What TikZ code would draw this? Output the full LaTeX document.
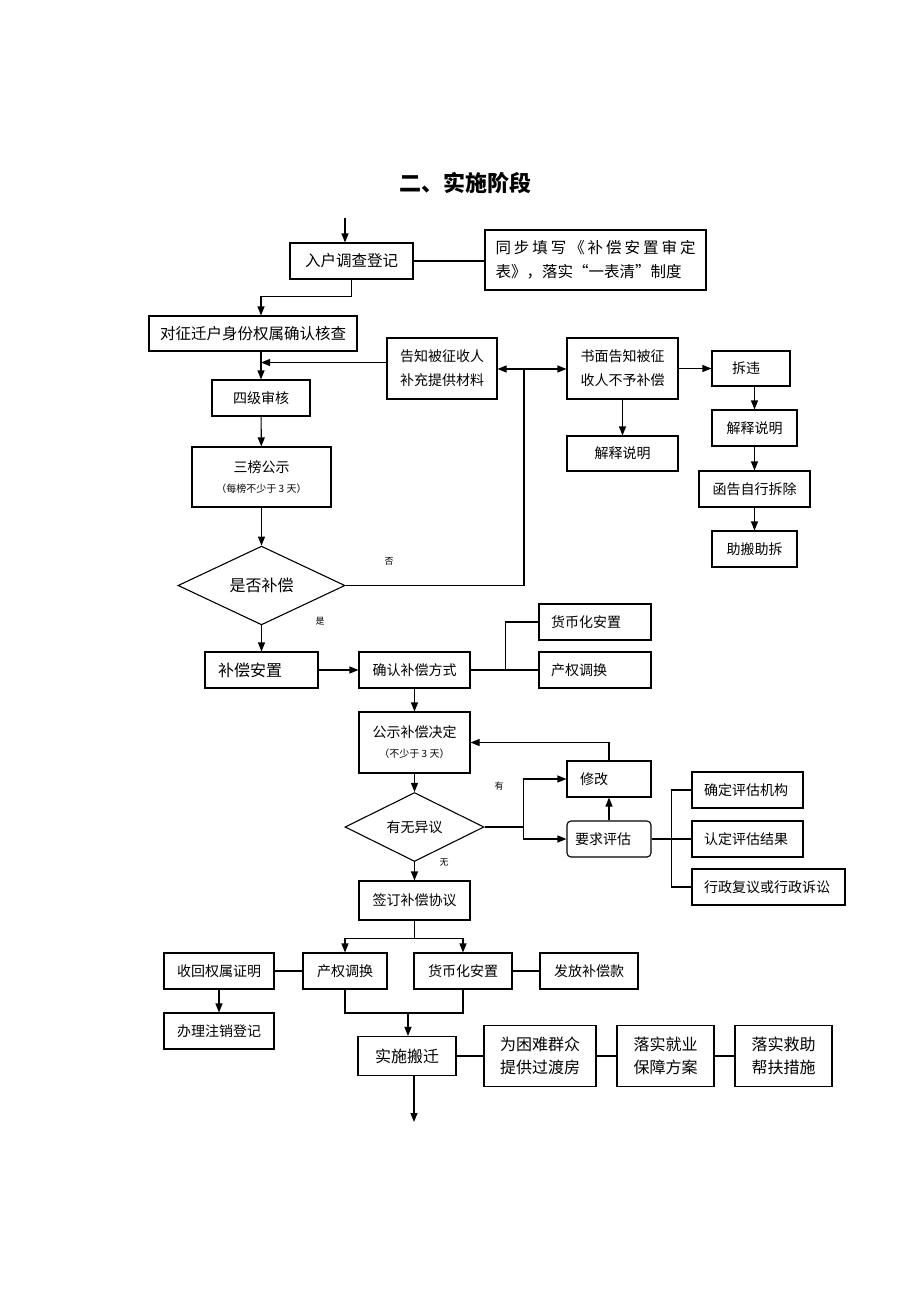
\documentclass[tikz,border=0pt]{standalone}
\usepackage{fontspec}
\setmainfont{Noto Sans CJK SC}
\usetikzlibrary{arrows.meta, positioning, shapes.geometric}

\tikzset{
  box/.style={draw, line width=1.1pt, minimum height=36pt, inner sep=0pt, align=center,
    font=\fontsize{14}{24}\selectfont},
  bigbox/.style={box, font=\fontsize{15.5}{24}\selectfont},
  lbox/.style={box, align=left, inner xsep=12pt, text width=#1},
  choice/.style={diamond, draw, line width=1.1pt, inner sep=0pt, font=\fontsize{16}{20}\selectfont},
  line/.style={line width=1.1pt},
  arr/.style={line, -{Triangle[length=9pt,width=7pt]}},
  darr/.style={line, {Triangle[length=9pt,width=7pt]}-{Triangle[length=9pt,width=7pt]}},
  lab/.style={font=\fontsize{9}{9}\selectfont, inner sep=0pt},
}
\newcommand{\smalltxt}[1]{{\fontsize{10}{12}\selectfont #1}}

\begin{document}
\begin{tikzpicture}[x=1pt, y=-1pt]
  \path[fill=white, use as bounding box] (0,0) rectangle (920,1302);

  \node (title) at (465,183) {\fontsize{22}{26}\selectfont\bfseries 二、实施阶段};

  % upper part
  \coordinate (start) at (345,218);
  \node[bigbox, minimum width=123pt] (ruhu) at (351.5,261) {入户调查登记};
  \node[bigbox, minimum width=221pt, minimum height=60pt, align=left, text width=200pt] (tongbu) at (595.5,260)
    {\makebox[200pt]{同\hfill 步\hfill 填\hfill 写\hfill 《\hfill 补\hfill 偿\hfill 安\hfill 置\hfill 审\hfill 定}\\表》，落实“一表清”制度};
  \node[bigbox, minimum width=208pt, minimum height=35pt] (hecha) at (253,333.5) {对征迁户身份权属确认核查};
  \node[box, minimum width=110pt, minimum height=61pt] (gaozhi) at (442,368.5) {告知被征收人\\补充提供材料};
  \node[box, minimum width=98pt] (siji) at (261,398) {四级审核};
  \node[box, minimum width=139pt, minimum height=60pt] (sanbang) at (261.5,477)
    {三榜公示\\[-4pt]\smalltxt{（每榜不少于 3 天）}};
  \node[choice, minimum width=167pt, minimum height=59pt] (shifou) at (261.5,585.5) {是否补偿};
  \node[box, minimum width=111pt, minimum height=61pt] (shuxian) at (622.5,368.5) {书面告知被征\\收人不予补偿};
  \node[box, minimum width=111pt, minimum height=35pt] (jieshi1) at (622.5,453.5) {解释说明};
  \node[lbox=38pt, minimum width=78pt, minimum height=35pt, inner xsep=20pt] (chaiwei) at (751,368.5) {拆违};
  \node[box, minimum width=85pt] (jieshi2) at (754.5,428) {解释说明};
  \node[box, minimum width=111pt] (hangao) at (754.5,489) {函告自行拆除};
  \node[box, minimum width=85pt] (zhuban) at (754.5,549) {助搬助拆};
  \coordinate (split) at (524,369);

  \node[lab] (fou) at (389,561) {否};
  \node[lab] (shi) at (320,621) {是};

  \draw[arr] (start) -- (start |- ruhu.north);
  \draw[line] (ruhu.east) -- (ruhu.east -| tongbu.west);
  \draw[arr] (ruhu.south) -- ++(0,17) -| (siji |- hecha.north);
  \draw[arr] (hecha.south -| siji) -- (siji.north);
  \draw[arr] ([yshift=6pt]gaozhi.west) -- ([yshift=6pt]gaozhi.west -| siji);
  \draw[arr] (siji) -- (sanbang);
  \draw[arr] (sanbang) -- (shifou);
  \draw[line] (shifou.east) -| (split);
  \draw[darr] (gaozhi.east |- split) -- (shuxian.west |- split);
  \draw[arr] (shuxian.east) -- (chaiwei.west);
  \draw[arr] (shuxian) -- (jieshi1);
  \draw[arr] (chaiwei.south -| jieshi2) -- (jieshi2.north);
  \draw[arr] (jieshi2) -- (hangao);
  \draw[arr] (hangao) -- (zhuban);

  % middle part
  \node[lbox=87pt, minimum width=113pt, font=\fontsize{16}{20}\selectfont] (buchang) at (261.5,670) {补偿安置};
  \node[box, minimum width=111pt] (queren) at (414.5,670) {确认补偿方式};
  \node[lbox=88pt, minimum width=112pt] (huobi1) at (595,622) {货币化安置};
  \node[lbox=88pt, minimum width=112pt] (chanquan1) at (595,670) {产权调换};
  \node[box, minimum width=111pt, minimum height=61pt] (gongshi) at (414.5,742.5)
    {公示补偿决定\\[-4pt]\smalltxt{（不少于 3 天）}};
  \node[lbox=58pt, minimum width=84pt] (xiugai) at (609,779) {修改};
  \node[choice, minimum width=139pt, minimum height=60pt, font=\fontsize{14}{20}\selectfont] (youwu) at (414.5,827) {有无异议};
  \node[lbox=68pt, minimum width=84pt, inner xsep=8pt, rounded corners=4pt] (yaoqiu) at (609,839) {要求评估};
  \node[lbox=87pt, minimum width=111pt] (queding) at (747.5,790) {确定评估机构};
  \node[lbox=87pt, minimum width=111pt] (rending) at (747.5,839) {认定评估结果};
  \node[lbox=129pt, minimum width=153pt] (xingzheng) at (768.5,887) {行政复议或行政诉讼};
  \node[box, minimum width=111pt, minimum height=39pt] (qianding) at (414.5,900.5) {签订补偿协议};

  \node[lab] (you) at (499,786) {有};
  \node[lab] (wu) at (444,862) {无};

  \draw[arr] (shifou) -- (buchang);
  \draw[arr] (buchang) -- (queren);
  \draw[line] (queren.east) -- ++(35,0) coordinate (fork1) |- (huobi1.west);
  \draw[line] (fork1) -- (chanquan1.west);
  \draw[arr] (queren) -- (gongshi);
  \draw[arr] (xiugai.north) |- (gongshi.east);
  \draw[arr] (gongshi) -- (youwu);
  \draw[line] (youwu.east) -- ++(39,0) coordinate (fork2);
  \draw[arr] (fork2) |- (xiugai.west);
  \draw[arr] (fork2) |- (yaoqiu.west);
  \draw[arr] (yaoqiu) -- (xiugai);
  \draw[line] (yaoqiu.east) -- ++(20,0) coordinate (fork3);
  \draw[line] (fork3) |- (queding.west);
  \draw[line] (fork3) -- (rending.west);
  \draw[line] (fork3) |- (xingzheng.west);
  \draw[arr] (youwu) -- (qianding);

  % lower part
  \node[box, minimum width=84pt] (chanquan2) at (345,971) {产权调换};
  \node[box, minimum width=98pt] (huobi2) at (463,971) {货币化安置};
  \node[box, minimum width=110pt] (shouhui) at (219,971) {收回权属证明};
  \node[box, minimum width=110pt] (banli) at (219,1031) {办理注销登记};
  \node[box, minimum width=98pt] (fafang) at (589,971) {发放补偿款};
  \node[bigbox, minimum width=98pt, minimum height=39pt, font=\fontsize{16}{20}\selectfont] (shishi) at (407,1056) {实施搬迁};
  \node[bigbox, minimum width=112pt, minimum height=61pt, font=\fontsize{16}{23}\selectfont] (kunnan) at (540,1056) {为困难群众\\提供过渡房};
  \node[bigbox, minimum width=97pt, minimum height=61pt, font=\fontsize{16}{23}\selectfont] (jiuye) at (665.5,1056) {落实就业\\保障方案};
  \node[bigbox, minimum width=97pt, minimum height=61pt, font=\fontsize{16}{23}\selectfont] (jiuzhu) at (783.5,1056) {落实救助\\帮扶措施};
  \coordinate (merge) at (408,1013);
  \coordinate (end) at (414,1122);

  \draw[line] (qianding.south) -- ++(0,18) coordinate (fork4);
  \draw[arr] (fork4) -| (chanquan2.north);
  \draw[arr] (fork4) -| (huobi2.north);
  \draw[line] (shouhui) -- (chanquan2);
  \draw[line] (huobi2) -- (fafang);
  \draw[arr] (shouhui) -- (banli);
  \draw[line] (chanquan2.south) |- (merge) -| (huobi2.south);
  \draw[arr] (merge) -- (merge |- shishi.north);
  \draw[line] (shishi) -- (kunnan);
  \draw[line] (kunnan) -- (jiuye);
  \draw[line] (jiuye) -- (jiuzhu);
  \draw[arr] (shishi.south -| end) -- (end);
\end{tikzpicture}
\end{document}
